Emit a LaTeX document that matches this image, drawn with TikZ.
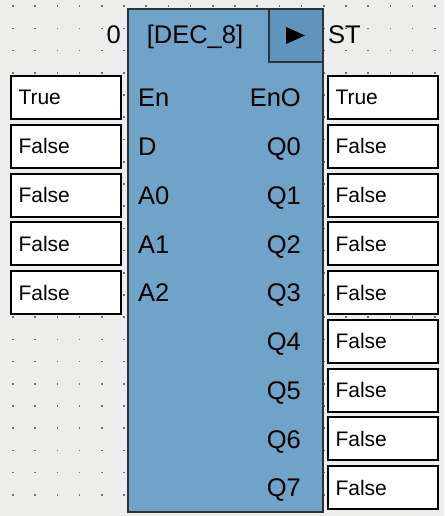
\documentclass[tikz,border=0pt]{standalone}
\usepackage{fontspec}
\setmainfont{Liberation Sans}
\usetikzlibrary{positioning}
\definecolor{canvas}{HTML}{EDEDEB}
\definecolor{blockblue}{HTML}{6FA3C8}
\definecolor{runblue}{HTML}{5F94BC}
\definecolor{dotgrey}{HTML}{707070}
\definecolor{rim}{HTML}{2E3436}
\begin{document}
\begin{tikzpicture}[x=1pt, y=-1pt,
    valbox/.style={draw=black, line width=2pt, fill=white, inner ysep=0pt, inner xsep=7.5pt,
                   text width=95pt, minimum height=43pt, align=left, font=\fontsize{21}{25}\selectfont},
    pinlbl/.style={inner sep=0pt, font=\fontsize{25.5}{30}\selectfont}]
            \fill[canvas] (0,0) rectangle (444,516);
            \useasboundingbox (0,0) rectangle (444,516);
            % dotted grid
            \foreach \i in {0,...,19}
               \foreach \j in {0,...,22}
                   \fill[dotgrey] (12.2+22.2*\i,5.5+22.2*\j) rectangle ++(1.6,1.6);
            % function block
            \node[draw=rim, line width=2pt, fill=blockblue, inner sep=0pt, minimum width=195pt,
                  minimum height=503pt, anchor=north west] (blk) at (127,8) {};
            \node[draw=rim, line width=2pt, fill=runblue, inner sep=0pt, minimum width=54pt,
                  minimum height=53pt, anchor=north east] (run) at (blk.north east) {};
            \fill[black] (286,27) -- (305,35.5) -- (286,44) -- cycle;
            \node[pinlbl, anchor=base east] (cnt) at (121,43.5) {0};
            \node[pinlbl, anchor=base] (title) at (195,43.5) {[DEC\_8]};
            \node[pinlbl, anchor=base west] (st) at (328,43.5) {ST};
            % inputs
            \foreach \lbl/\val [count=\k from 0] in {En/True, D/False, A0/False, A1/False, A2/False}{
               \node[valbox] (in\k) at (66,97.5+48.75*\k) {\val};
               \node[pinlbl, anchor=base west] (pin\k) at (138,106.8+48.75*\k) {\lbl};
            }
            % outputs
            \foreach \lbl/\val [count=\k from 0] in {EnO/True, Q0/False, Q1/False, Q2/False, Q3/False,
                                                     Q4/False, Q5/False, Q6/False, Q7/False}{
               \node[valbox] (out\k) at (383,97.5+48.75*\k) {\val};
               \node[pinlbl, anchor=base east] (pout\k) at (301,106.8+48.75*\k) {\lbl};
            }
        \end{tikzpicture}
\end{document}
